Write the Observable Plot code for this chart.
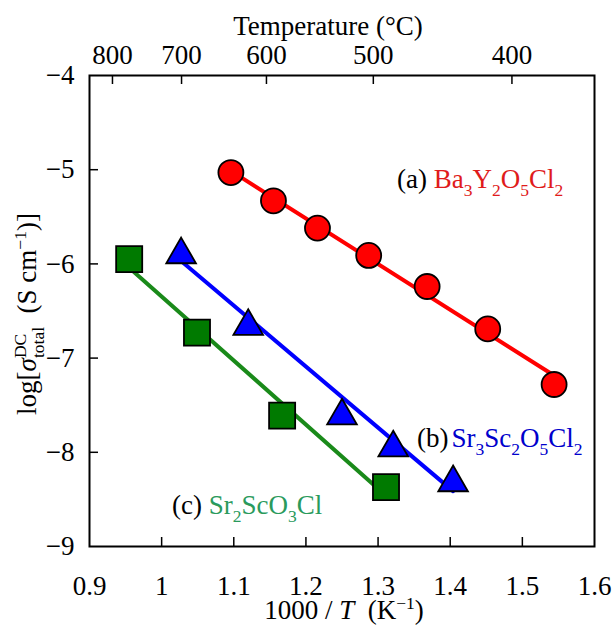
<!DOCTYPE html>
<html>
<head>
<meta charset="utf-8">
<script src="https://cdn.jsdelivr.net/npm/d3@7"></script>
<script src="https://cdn.jsdelivr.net/npm/@observablehq/plot@0.6"></script>
<style>
  html, body { margin: 0; padding: 0; background: #fff; }
  svg text, svg tspan { font-family: 'Liberation Serif', 'Times New Roman', Times, serif !important; }
</style>
</head>
<body>
<div id="chart"></div>
<script>
// Conductivity data: x = 1000/T (K^-1), y = log(sigma_total^DC / S cm^-1)
const baX = [1.096, 1.155, 1.216, 1.287, 1.368, 1.452, 1.544];
const baY = [-5.03, -5.33, -5.62, -5.91, -6.24, -6.69, -7.28];

const sr3X = [1.027, 1.120, 1.250, 1.321, 1.404];
const sr3Y = [-5.86, -6.62, -7.57, -7.91, -8.28];

const sr2X = [0.955, 1.049, 1.167, 1.311];
const sr2Y = [-5.95, -6.73, -7.61, -8.37];

// Axis ticks
const xTicks = [0.9, 1, 1.1, 1.2, 1.3, 1.4, 1.5, 1.6];
const yTicks = [-4, -5, -6, -7, -8, -9];
const tempTicks = [800, 700, 600, 500, 400]; // degrees Celsius, top axis

const FONT = "'Liberation Serif', 'Times New Roman', Times, serif";
const FS = 27;
const W = 614, H = 625;
const M = {left: 89, right: 20, top: 75, bottom: 79};
const innerW = W - M.left - M.right;
const innerH = H - M.top - M.bottom;

const invT = t => 1000 / (t + 273.15);
const tempPos = tempTicks.map(invT);
const rows = (xs, ys) => xs.map((x, i) => ({x, y: ys[i]}));
const ba = rows(baX, baY), sr3 = rows(sr3X, sr3Y), sr2 = rows(sr2X, sr2Y);

const fmtY = d3.format("d");

const svg = Plot.plot({
  width: W,
  height: H,
  marginLeft: M.left,
  marginRight: M.right,
  marginTop: M.top,
  marginBottom: M.bottom,
  style: {fontFamily: FONT, fontSize: FS + "px", color: "#000", background: "#fff", overflow: "visible"},
  x: {domain: [0.9, 1.6]},
  y: {domain: [-9, -4]},
  marks: [
    // inward tick marks
    Plot.tickX(xTicks.slice(1, -1), {x: d => d, insetTop: innerH - 9, stroke: "#000", strokeWidth: 1.5}),
    Plot.tickX(tempPos, {x: d => d, insetBottom: innerH - 9, stroke: "#000", strokeWidth: 1.5}),
    Plot.tickY(yTicks.slice(1, -1), {y: d => d, insetRight: innerW - 9, stroke: "#000", strokeWidth: 1.5}),
    // tick labels
    Plot.axisX(xTicks, {anchor: "bottom", tickSize: 0, tickPadding: 29, label: null, tickFormat: d => String(d)}),
    Plot.axisX(tempPos, {anchor: "top", tickSize: 0, tickPadding: 12, label: null,
      tickFormat: d => String(tempTicks[tempPos.indexOf(d)])}),
    Plot.axisY(yTicks, {anchor: "left", tickSize: 0, tickPadding: 15, label: null, tickFormat: fmtY}),
    // fitted lines
    Plot.linearRegressionY(ba, {x: "x", y: "y", stroke: "#ff0000", strokeWidth: 4, ci: 0}),
    Plot.linearRegressionY(sr3, {x: "x", y: "y", stroke: "#0000ff", strokeWidth: 4, ci: 0}),
    Plot.linearRegressionY(sr2, {x: "x", y: "y", stroke: "#1a8a1a", strokeWidth: 4, ci: 0}),
    // markers
    Plot.dot(ba, {x: "x", y: "y", r: 12.5, fill: "#ff0000", stroke: "#000", strokeWidth: 1.8}),
    Plot.dot(sr2, {x: "x", y: "y", symbol: "square", r: 14.7, fill: "#007a00", stroke: "#000", strokeWidth: 1.8}),
    Plot.dot(sr3, {x: "x", y: "y", symbol: "triangle", r: 11, dy: 4, fill: "#0000ff", stroke: "#000", strokeWidth: 1.8}),
    Plot.frame({stroke: "#000", strokeWidth: 2})
  ]
});

document.getElementById("chart").append(svg);

// Rich text (italics, subscripts, superscripts, stacked indices) drawn into the plot's SVG
function rich(text, parts, size) {
  let shift = 0;
  let prev = null;
  for (const p of parts) {
    const ts = text.append("tspan").text(p.t);
    const target = p.sub ? size * 0.3 : p.sup ? -size * 0.38 : 0;
    if (target !== shift) { ts.attr("dy", target - shift); shift = target; }
    if (p.sub || p.sup) ts.attr("font-size", size * 0.65);
    if (p.italic) ts.attr("font-style", "italic");
    if (p.fill) ts.attr("fill", p.fill);
    if (p.back && prev) ts.attr("dx", -prev.node().getComputedTextLength());
    else if (p.dx) ts.attr("dx", p.dx);
    prev = ts;
  }
  return text;
}

const root = d3.select(svg).append("g")
  .attr("font-family", FONT)
  .attr("font-size", FS)
  .attr("text-anchor", "start")
  .attr("fill", "#000");

// top axis title
rich(root.append("text").attr("x", 328).attr("y", 35).attr("text-anchor", "middle"),
  [{t: "Temperature (°C)"}], FS);

// bottom axis title
rich(root.append("text").attr("x", 344).attr("y", 619).attr("text-anchor", "middle"),
  [{t: "1000 / "}, {t: "T", italic: true}, {t: "  (K"}, {t: "−1", sup: true}, {t: ")"}], FS);

// left axis title
rich(root.append("text").attr("transform", "translate(36,314) rotate(-90)").attr("text-anchor", "middle"),
  [{t: "log["}, {t: "σ", italic: true}, {t: "DC", sup: true}, {t: "total", sub: true, back: true},
   {t: "  (S cm"}, {t: "−1", sup: true}, {t: ")]"}], FS);

// series labels
const RED = "#e01b1b", BLUE = "#0000cc", GREEN = "#2a9a5c";

rich(root.append("text").attr("x", 397).attr("y", 188).attr("text-anchor", "start"),
  [{t: "(a) "}, {t: "Ba", fill: RED}, {t: "3", sub: true, fill: RED}, {t: "Y", fill: RED},
   {t: "2", sub: true, fill: RED}, {t: "O", fill: RED}, {t: "5", sub: true, fill: RED},
   {t: "Cl", fill: RED}, {t: "2", sub: true, fill: RED}], FS);

rich(root.append("text").attr("x", 417).attr("y", 447).attr("text-anchor", "start"),
  [{t: "(b)"}, {t: "Sr", fill: BLUE, dx: 3}, {t: "3", sub: true, fill: BLUE}, {t: "Sc", fill: BLUE},
   {t: "2", sub: true, fill: BLUE}, {t: "O", fill: BLUE}, {t: "5", sub: true, fill: BLUE},
   {t: "Cl", fill: BLUE}, {t: "2", sub: true, fill: BLUE}], FS);

rich(root.append("text").attr("x", 172).attr("y", 514).attr("text-anchor", "start"),
  [{t: "(c) "}, {t: "Sr", fill: GREEN}, {t: "2", sub: true, fill: GREEN}, {t: "ScO", fill: GREEN},
   {t: "3", sub: true, fill: GREEN}, {t: "Cl", fill: GREEN}], FS);
</script>
</body>
</html>
